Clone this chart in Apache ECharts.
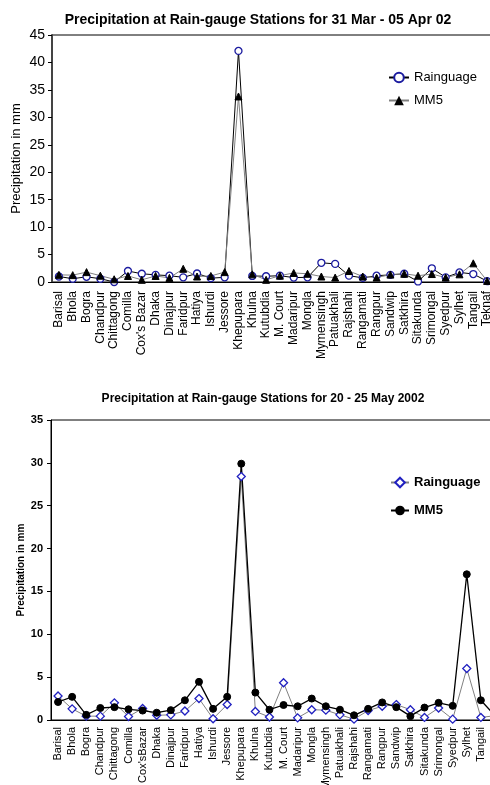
<!DOCTYPE html>
<html>
<head>
<meta charset="utf-8">
<script src="https://cdn.jsdelivr.net/npm/echarts@6/dist/echarts.min.js"></script>
<style>
  html, body { margin: 0; padding: 0; background: #fff; }
  #chart1 { width: 490px; height: 380px; }
  #chart2 { width: 490px; height: 405px; }
</style>
</head>
<body>
<div id="chart1"></div>
<div id="chart2"></div>
<script>
// 31 Mar - 05 Apr 02
const stations1 = ["Barisal", "Bhola", "Bogra", "Chandpur", "Chittagong", "Comilla", "Cox's Bazar", "Dhaka",
  "Dinajpur", "Faridpur", "Hatiya", "Ishurdi", "Jessore", "Khepupara", "Khulna", "Kutubdia", "M. Court",
  "Madaripur", "Mongla", "Mymensingh", "Patuakhali", "Rajshahi", "Rangamati", "Rangpur", "Sandwip",
  "Satkhira", "Sitakunda", "Srimongal", "Syedpur", "Sylhet", "Tangail", "Teknaf"];
const rain1 = [1.0, 0.6, 0.95, 0.6, 0.0, 2.0, 1.5, 1.3, 1.15, 0.85, 1.55, 0.7, 0.85, 42.1, 1.1, 1.05,
  1.15, 0.8, 0.85, 3.5, 3.3, 1.15, 0.75, 1.15, 1.3, 1.5, 0.1, 2.5, 0.85, 1.75, 1.45, 0.15];
const mm5_1 = [1.3, 1.25, 1.8, 1.15, 0.5, 1.1, 0.4, 1.1, 0.75, 2.4, 1.0, 1.1, 1.8, 33.8, 1.4, 0.4,
  1.15, 1.65, 1.5, 1.0, 0.8, 2.0, 1.0, 0.8, 1.35, 1.5, 1.15, 1.45, 0.8, 1.4, 3.4, 0.2];

// 20 - 25 May 2002
const stations2 = ["Barisal", "Bhola", "Bogra", "Chandpur", "Chittagong", "Comilla", "Cox'sBazar", "Dhaka",
  "Dinajpur", "Faridpur", "Hatiya", "Ishurdi", "Jessore", "Khepupara", "Khulna", "Kutubdia", "M. Court",
  "Madaripur", "Mongla", "Mymensingh", "Patuakhali", "Rajshahi", "Rangamati", "Rangpur", "Sandwip",
  "Satkhira", "Sitakunda", "Srimongal", "Syedpur", "Sylhet", "Tangail", "Teknaf"];
const rain2 = [2.8, 1.3, 0.45, 0.45, 2.0, 0.4, 1.35, 0.55, 0.6, 1.05, 2.5, 0.15, 1.8, 28.4, 1.0, 0.35,
  4.35, 0.25, 1.2, 1.15, 0.6, 0.1, 1.1, 1.6, 1.8, 1.2, 0.3, 1.4, 0.1, 6.0, 0.3, 0.5];
const mm5_2 = [2.1, 2.7, 0.6, 1.4, 1.5, 1.25, 1.1, 0.85, 1.15, 2.3, 4.45, 1.3, 2.7, 29.9, 3.2, 1.2,
  1.75, 1.6, 2.5, 1.6, 1.2, 0.55, 1.3, 2.05, 1.5, 0.45, 1.45, 2.0, 1.65, 17.0, 2.3, 0.5];

const sans = "'Liberation Sans', Arial, sans-serif";

const chart1 = echarts.init(document.getElementById("chart1"));
chart1.setOption({
  animation: false,
  title: {
    text: "Precipitation at Rain-gauge Stations for 31 Mar - 05 Apr 02",
    left: 253, top: 8, textAlign: "center",
    textStyle: { fontFamily: sans, fontSize: 14, fontWeight: "bold", color: "#000" },
  },
  legend: {
    orient: "vertical", left: 383, top: 66, itemWidth: 20, itemHeight: 12, itemGap: 10,
    textStyle: { fontFamily: sans, fontSize: 13, color: "#000" },
    data: ["Rainguage", "MM5"],
  },
  grid: {
    left: 52, top: 35, width: 442, height: 247, outerBoundsMode: "none",
    show: true, borderColor: "#000", borderWidth: 1,
  },
  xAxis: {
    type: "category", data: stations1, boundaryGap: true,
    axisLine: { lineStyle: { color: "#000", width: 1 } },
    axisTick: { length: 4, lineStyle: { color: "#000" } },
    axisLabel: { rotate: 90, interval: 0, margin: 9, fontFamily: sans, fontSize: 12, color: "#000" },
  },
  yAxis: {
    type: "value", min: 0, max: 45, interval: 5,
    name: "Precipitation in mm", nameLocation: "middle", nameGap: 29, nameMoveOverlap: false,
    nameTextStyle: { fontFamily: sans, fontSize: 13, color: "#000" },
    splitLine: { show: false },
    axisLine: { show: true, lineStyle: { color: "#444", width: 2 } },
    axisTick: { show: true, length: 4, lineStyle: { color: "#000" } },
    axisLabel: { fontFamily: sans, fontSize: 14, color: "#000", margin: 7 },
  },
  series: [
    {
      name: "Rainguage", type: "line", data: rain1, symbol: "circle", symbolSize: 7,
      lineStyle: { color: "#000", width: 1 },
      itemStyle: { color: "#fff", borderColor: "#1c1ca0", borderWidth: 1.3 },
    },
    {
      name: "MM5", type: "line", data: mm5_1, symbol: "triangle", symbolSize: 7,
      lineStyle: { color: "#808080", width: 1 },
      itemStyle: { color: "#000", borderColor: "#000" },
    },
  ],
});

const chart2 = echarts.init(document.getElementById("chart2"));
chart2.setOption({
  animation: false,
  title: {
    text: "Precipitation at Rain-gauge Stations for 20 - 25 May 2002",
    left: 258, top: 8, textAlign: "center",
    textStyle: { fontFamily: sans, fontSize: 12, fontWeight: "bold", color: "#000" },
  },
  legend: {
    orient: "vertical", left: 385, top: 91, itemWidth: 18, itemHeight: 12, itemGap: 15,
    textStyle: { fontFamily: sans, fontSize: 13, fontWeight: "bold", color: "#000" },
    data: ["Rainguage", "MM5"],
  },
  grid: {
    left: 51, top: 40, width: 451, height: 300, outerBoundsMode: "none",
    show: true, borderColor: "#000", borderWidth: 1,
  },
  xAxis: {
    type: "category", data: stations2, boundaryGap: true,
    axisLine: { lineStyle: { color: "#000", width: 1 } },
    axisTick: { length: 4, lineStyle: { color: "#000" } },
    axisLabel: { rotate: 90, interval: 0, margin: 7, fontFamily: sans, fontSize: 11, color: "#000" },
  },
  yAxis: {
    type: "value", min: 0, max: 35, interval: 5,
    name: "Precipitation in mm", nameLocation: "middle", nameGap: 25, nameMoveOverlap: false,
    nameTextStyle: { fontFamily: sans, fontSize: 10, fontWeight: "bold", color: "#000" },
    splitLine: { show: false },
    axisLine: { show: true, lineStyle: { color: "#000", width: 1 } },
    axisTick: { show: true, length: 4, lineStyle: { color: "#000" } },
    axisLabel: { fontFamily: sans, fontSize: 11, fontWeight: "bold", color: "#000", margin: 8 },
  },
  series: [
    {
      name: "Rainguage", type: "line", data: rain2, symbol: "diamond", symbolSize: 8,
      lineStyle: { color: "#808080", width: 1 },
      itemStyle: { color: "#fff", borderColor: "#2020c0", borderWidth: 1.3 },
    },
    {
      name: "MM5", type: "line", data: mm5_2, symbol: "circle", symbolSize: 7,
      lineStyle: { color: "#000", width: 1.3 },
      itemStyle: { color: "#000", borderColor: "#000" },
    },
  ],
});
</script>
</body>
</html>
